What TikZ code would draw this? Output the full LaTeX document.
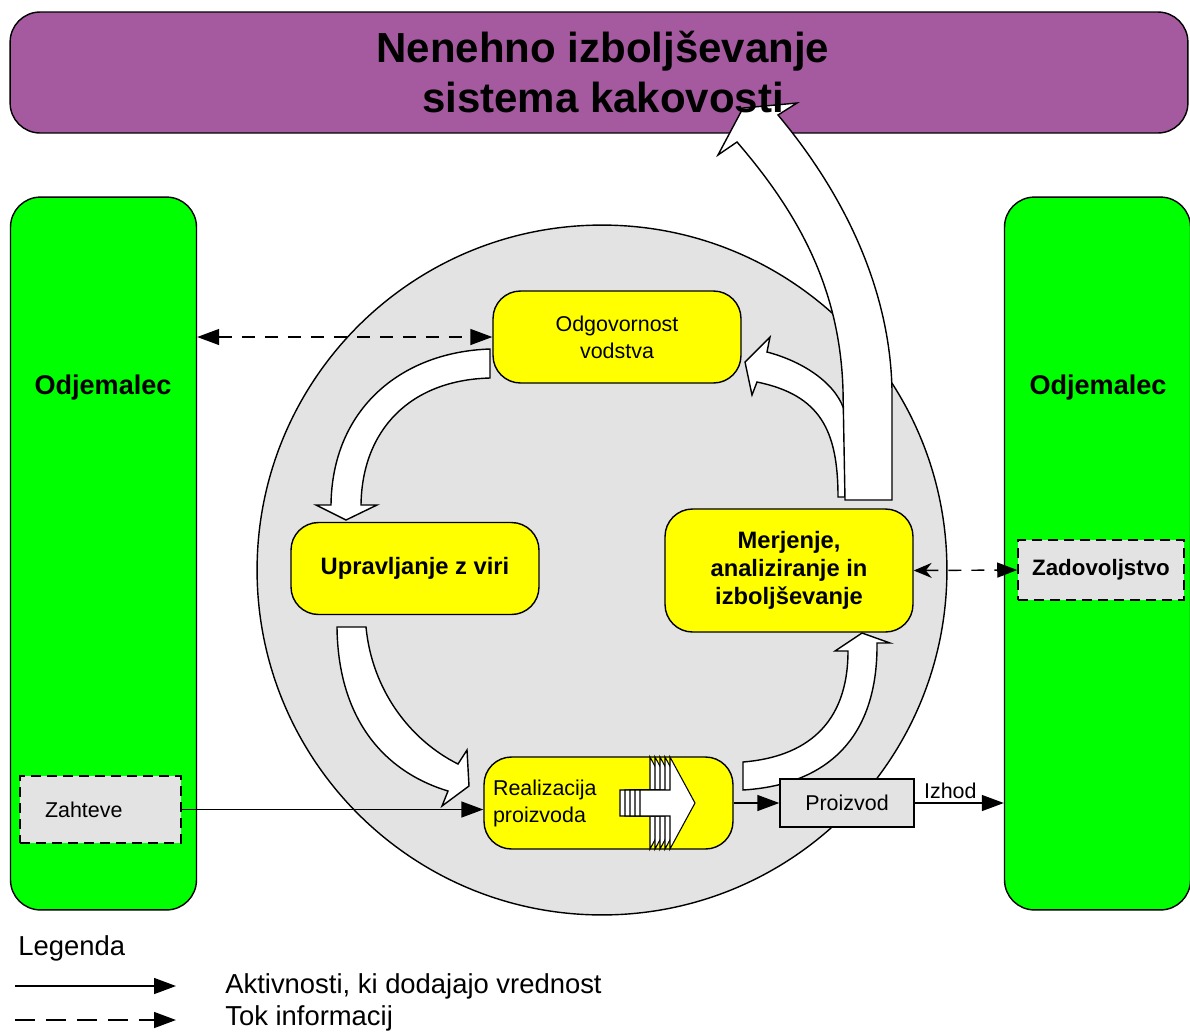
\documentclass[tikz,border=0pt]{standalone}
\usepackage{fontspec}
\setmainfont{Liberation Sans}
\usetikzlibrary{arrows.meta}
\definecolor{bannerpurple}{RGB}{165,90,160}
\definecolor{panelgreen}{RGB}{0,255,0}
\definecolor{boxyellow}{RGB}{255,255,0}
\definecolor{softgray}{RGB}{227,227,227}
\begin{document}
\begin{tikzpicture}[x=0.02cm, y=-0.02cm,
  outline/.style={draw=black, line width=0.8pt},
  plaintext/.style={font=\fontsize{12.2pt}{15.4pt}\selectfont},
  boldtext/.style={font=\fontsize{13.5pt}{15.9pt}\selectfont\bfseries},
  banner/.style={outline, fill=bannerpurple, rounded corners=0.6cm,
    minimum width=23.56cm, minimum height=2.42cm},
  panel/.style={outline, fill=panelgreen, rounded corners=0.6cm,
    minimum width=3.72cm, minimum height=14.26cm},
  paneltitle/.style={font=\fontsize{15.4pt}{18pt}\selectfont\bfseries},
  process/.style={outline, fill=boxyellow, rounded corners=0.55cm,
    minimum width=4.96cm, minimum height=1.84cm, align=center, inner sep=0pt},
  dashbox/.style={draw=black, line width=0.9pt, dash pattern=on 0.2cm off 0.12cm,
    fill=softgray, inner sep=0pt},
  blockarrow/.style={outline, fill=white, line join=miter},
  stackarrow/.style={draw=black, line width=0.6pt, fill=white},
  tip/.style={},
  valueflow/.style={draw=black, line width=0.8pt,
    -{Triangle[length=0.44cm, width=0.32cm]}},
  infoflow/.style={draw=black, line width=0.8pt, dash pattern=on 0.26cm off 0.2cm},
  legendtext/.style={font=\fontsize{15.6pt}{18pt}\selectfont, inner sep=0pt, anchor=west},
]
\useasboundingbox (0,0) rectangle (1190,1032);

% banner and the two customer panels
\node[banner] (banner) at (599,72.5) {};
\node[panel] (lpanel) at (103.5,553.5) {};
\node[panel] (rpanel) at (1097.5,553.5) {};
\node[paneltitle] (ltitle) at (103,387) {Odjemalec};
\node[paneltitle] (rtitle) at (1098,387) {Odjemalec};

% process wheel
\node[outline, fill=softgray, circle, minimum size=13.8cm, inner sep=0pt] (wheel) at (602,570) {};

% customer inputs / outputs
\node[dashbox, plaintext, text width=2.22cm, inner xsep=0.5cm, minimum height=1.34cm,
  align=left] (zah) at (100.5,809.5) {Zahteve};
\node[dashbox, boldtext, font=\fontsize{12.7pt}{15pt}\selectfont\bfseries,
  minimum width=3.32cm, minimum height=1.2cm] (zad) at (1101,570) {Zadovoljstvo};

% curved block arrows of the cycle
\draw[blockarrow] (490,349) .. controls (400,352) and (332,410) .. (331,505)
  -- (316,505) -- (346,520) -- (377,505) -- (361,505)
  .. controls (362,430) and (410,380) .. (490,378) -- cycle;
\draw[blockarrow] (337,627) -- (366,627) .. controls (372,690) and (410,740) .. (458,764)
  -- (467,750) -- (469,786) -- (442,806) -- (448,791)
  .. controls (385,772) and (338,720) .. (337,627) -- cycle;
\draw[blockarrow] (743,762) .. controls (805,757) and (848,725) .. (848,651)
  -- (835,651) -- (862,633) -- (890,643) -- (877,643)
  .. controls (878,740) and (825,785) .. (743,790) -- cycle;
\draw[blockarrow] (845,497) -- (838,497) .. controls (838,430) and (820,395) .. (757,382)
  -- (752,395) -- (745,362) -- (770,337) -- (767,352)
  .. controls (805,362) and (838,385) .. (845,413) -- cycle;
\draw[blockarrow] (845,500) -- (843,390) .. controls (840,290) and (800,215) .. (737,142)
  -- (718,155) -- (743,108) -- (797,103) -- (778,115)
  .. controls (845,195) and (890,290) .. (892,390) -- (892,500) -- cycle;

% process steps
\node[process, plaintext] (odg) at (617,337) {Odgovornost\\vodstva};
\node[process, boldtext] (upr) at (415,568.5) {Upravljanje z viri};
\node[process, boldtext, minimum height=2.46cm] (mer) at (789,570.5)
  {Merjenje,\\analiziranje in\\izboljševanje};
\node[process, plaintext, text width=4.62cm, align=left, inner xsep=0.18cm] (real)
  at (608.5,803) {Realizacija\\proizvoda};
\node[outline, fill=softgray, minimum width=2.68cm, minimum height=0.96cm, plaintext,
  inner sep=0pt] (proiz) at (847,803) {Proizvod};

% stacked arrow inside the realisation step
\foreach \s in {0,5,10,15,20} {
  \draw[stackarrow, shift={(\s,0)}] (620,790) -- (650,790) -- (650,757) -- (675,803)
    -- (650,849) -- (650,816) -- (620,816) -- cycle;
}

% connectors
\draw[infoflow, {Triangle[length=0.44cm, width=0.32cm]}-{Triangle[length=0.44cm, width=0.32cm]}]
  (lpanel.east |- odg.west) -- (odg.west);
\draw[infoflow, {Stealth[length=0.36cm, width=0.3cm]}-{Triangle[length=0.4cm, width=0.3cm]}]
  (mer.east) -- (zad.west);
\draw[valueflow] (zah.east) -- (zah.east -| real.west);
\draw[valueflow] (real.east) -- (proiz.west);
\draw[valueflow] (proiz.east) -- node[pos=0.4, above, plaintext, inner sep=2pt] (izhod) {Izhod}
  (proiz.east -| rpanel.west);

% title over the banner
\node[font=\fontsize{23.9pt}{28.45pt}\selectfont\bfseries, align=center] (title)
  at (603,72) {Nenehno izboljševanje\\sistema kakovosti};

% legend
\node[legendtext] (legtitle) at (18,948) {Legenda};
\coordinate (va) at (15,986);
\coordinate (vb) at (176,986);
\draw[valueflow] (va) -- (vb);
\node[legendtext] (vtext) at (225,986) {Aktivnosti, ki dodajajo vrednost};
\coordinate (ia) at (15,1020);
\coordinate (ib) at (176,1020);
\draw[draw=black, line width=0.8pt, dash pattern=on 0.4cm off 0.22cm,
  -{Triangle[length=0.44cm, width=0.32cm]}] (ia) -- (ib);
\node[legendtext] (itext) at (225,1018) {Tok informacij};
\end{tikzpicture}
\end{document}
